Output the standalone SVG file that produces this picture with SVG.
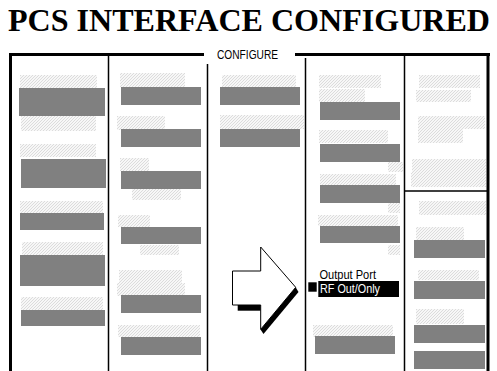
<svg xmlns="http://www.w3.org/2000/svg" width="497" height="371" viewBox="0 0 497 371">
<defs>
<pattern id="hatch" patternUnits="userSpaceOnUse" width="3" height="3">
<rect width="3" height="3" fill="#f7f7f7"/>
<path d="M-1,1 L1,-1 M0,3 L3,0 M2,4 L4,2" stroke="#d6d6d6" stroke-width="0.8"/>
</pattern>
</defs>
<style>
.h{fill:url(#hatch)}
.g{fill:#808080}
.frame{stroke:#000;stroke-width:3;fill:none}
.div{stroke:#000;stroke-width:1.5;fill:none}
.lbl{font-family:"Liberation Sans",Arial,sans-serif;font-size:13px}
</style>
<rect width="497" height="371" fill="#fff"/>
<text x="8" y="31" font-family="Liberation Serif,'Times New Roman',serif" font-weight="bold" font-size="32" textLength="482" lengthAdjust="spacingAndGlyphs">PCS INTERFACE CONFIGURED</text>
<g id="frame">
<path class="frame" d="M9,54.5 H204 M295,54.5 H490 M10.5,53 V371 M488,53 V371"/>
<text class="lbl" x="217" y="58.5" textLength="61" lengthAdjust="spacingAndGlyphs">CONFIGURE</text>
<path class="div" d="M108.5,55 V371 M207.5,64 V371 M305.5,58 V371 M404.5,55 V371 M404,191 H487"/>
</g>
<g id="col1">
<rect class="h" x="20" y="75" width="77" height="13"/>
<rect class="g" x="19" y="88" width="86" height="28"/>
<rect class="h" x="21" y="116" width="75" height="15"/>
<rect class="h" x="20" y="144" width="76" height="13"/>
<rect class="g" x="21" y="159" width="85" height="29"/>
<rect class="h" x="20" y="201" width="83" height="12"/>
<rect class="g" x="20" y="213" width="84" height="17"/>
<rect class="h" x="22" y="242" width="81" height="13"/>
<rect class="g" x="20" y="255" width="85" height="31"/>
<rect class="h" x="21" y="297" width="82" height="13"/>
<rect class="g" x="21" y="310" width="84" height="16"/>
</g>
<g id="col2">
<rect class="h" x="120" y="73" width="65" height="14"/>
<rect class="g" x="121" y="87" width="80" height="18"/>
<rect class="h" x="117" y="116" width="48" height="14"/>
<rect class="g" x="121" y="129" width="80" height="18"/>
<rect class="h" x="120" y="158" width="29" height="13"/>
<rect class="g" x="121" y="171" width="80" height="18"/>
<rect class="h" x="132" y="189" width="49" height="11"/>
<rect class="h" x="118" y="215" width="32" height="12"/>
<rect class="g" x="121" y="227" width="80" height="17"/>
<rect class="h" x="140" y="245" width="39" height="10"/>
<rect class="h" x="119" y="270" width="63" height="13"/>
<rect class="h" x="117" y="283" width="68" height="13"/>
<rect class="g" x="121" y="295" width="80" height="18"/>
<rect class="h" x="118" y="325" width="82" height="12"/>
<rect class="g" x="121" y="337" width="80" height="18"/>
</g>
<g id="col3">
<rect class="h" x="222" y="75" width="74" height="12"/>
<rect class="g" x="220" y="87" width="80" height="18"/>
<rect class="h" x="220" y="115" width="84" height="14"/>
<rect class="g" x="220" y="129" width="80" height="18"/>
</g>
<g id="arrow">
<polygon points="237.7,305 260.7,305 260.7,310.7 237.7,310.7" fill="#000"/>
<polygon points="295.5,287 298.5,292 263.5,334 260.5,329.5" fill="#000"/>
<polygon points="232.5,271 260.7,271 260.7,247 295.7,287.3 260.7,329.3 260.7,305 232.5,305" fill="#fff" stroke="#000" stroke-width="1"/>
</g>
<g id="col4">
<rect class="h" x="319" y="75" width="62" height="13"/>
<rect class="h" x="319" y="89" width="46" height="13"/>
<rect class="g" x="320" y="102" width="80" height="18"/>
<rect class="h" x="319" y="130" width="69" height="13"/>
<rect class="g" x="320" y="144" width="80" height="18"/>
<rect class="h" x="388" y="162" width="15" height="10"/>
<rect class="h" x="320" y="174" width="76" height="11"/>
<rect class="g" x="320" y="185" width="80" height="18"/>
<rect class="h" x="388" y="203" width="12" height="10"/>
<rect class="h" x="318" y="215" width="80" height="11"/>
<rect class="g" x="320" y="226" width="80" height="17"/>
<rect class="h" x="388" y="245" width="12" height="10"/>
<rect class="h" x="313" y="325" width="80" height="12"/>
<rect class="g" x="315" y="336" width="80" height="18"/>
</g>
<g id="output-port">
<text class="lbl" x="319.5" y="279" font-size="12" textLength="56.5" lengthAdjust="spacingAndGlyphs">Output Port</text>
<rect x="308.3" y="282.3" width="8.4" height="9.4" fill="#000"/>
<rect x="318.3" y="281" width="80.7" height="16" fill="#000"/>
<text class="lbl" x="320" y="292.8" font-size="12" fill="#fff" textLength="60" lengthAdjust="spacingAndGlyphs">RF Out/Only</text>
</g>
<g id="col5">
<rect class="h" x="419" y="75" width="61" height="13"/>
<rect class="h" x="416" y="90" width="55" height="12"/>
<rect class="h" x="418" y="116" width="67" height="13"/>
<rect class="h" x="418" y="129" width="45" height="14"/>
<rect class="h" x="412" y="159" width="74" height="14"/>
<rect class="h" x="411" y="173" width="75" height="14"/>
<rect class="h" x="419" y="201" width="67" height="14"/>
<rect class="h" x="416" y="227" width="48" height="13"/>
<rect class="g" x="414" y="240" width="71" height="18"/>
<rect class="h" x="418" y="270" width="61" height="10"/>
<rect class="g" x="414" y="281" width="71" height="18"/>
<rect class="h" x="416" y="309" width="48" height="15"/>
<rect class="g" x="414" y="325" width="71" height="18"/>
<rect class="g" x="414" y="351" width="71" height="18"/>
</g>
</svg>
